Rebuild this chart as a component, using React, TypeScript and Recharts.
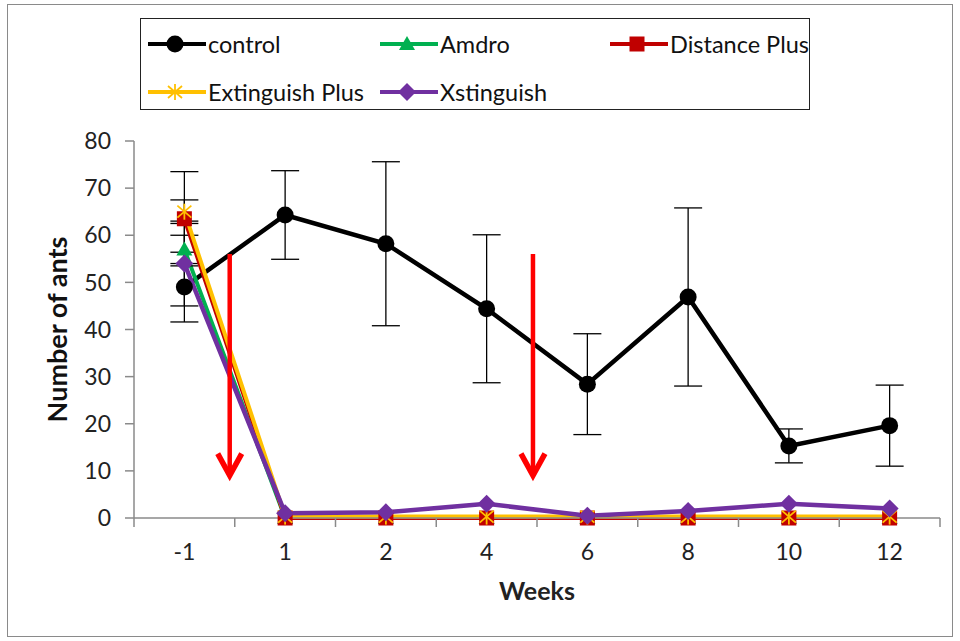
import React from 'react';
import { LineChart, Line, XAxis, YAxis, ErrorBar, Legend, ReferenceLine } from 'recharts';

const weeks = ['-1', '1', '2', '4', '6', '8', '10', '12'];
const control = [49, 64.3, 58.2, 44.4, 28.4, 46.9, 15.3, 19.6];
const controlErr = [7.4, 9.4, 17.4, 15.7, 10.7, 18.9, 3.6, 8.6];
const amdro = [57, 0, 0, 0, 0, 0, 0, 0];
const amdroErr = [3, 0, 0, 0, 0, 0, 0, 0];
const distancePlus = [63.5, 0, 0, 0, 0, 0, 0, 0];
const distancePlusErr = [10, 0, 0, 0, 0, 0, 0, 0];
const extinguishPlus = [65, 0.3, 0.3, 0.3, 0.3, 0.3, 0.3, 0.3];
const extinguishPlusErr = [2.5, 0, 0, 0, 0, 0, 0, 0];
const xstinguish = [54, 1, 1.2, 3, 0.5, 1.5, 3, 2];
const xstinguishErr = [9, 0, 0, 0, 0, 0, 0, 0];
const yTicks = [0, 10, 20, 30, 40, 50, 60, 70, 80];
const arrowX = [0.45, 3.46];
const arrowTop = 56;
const arrowBottom = 9;

const data = weeks.map((w, i) => ({
  i,
  week: w,
  control: control[i],
  controlErr: controlErr[i] || null,
  amdro: amdro[i],
  amdroErr: amdroErr[i] || null,
  distancePlus: distancePlus[i],
  distancePlusErr: distancePlusErr[i] || null,
  extinguishPlus: extinguishPlus[i],
  extinguishPlusErr: extinguishPlusErr[i] || null,
  xstinguish: xstinguish[i],
  xstinguishErr: xstinguishErr[i] || null,
}));

const FONT = 'Lato, "Open Sans", sans-serif';
const C_CONTROL = '#000000';
const C_AMDRO = '#00B050';
const C_DIST = '#C00000';
const C_EXT = '#FFC000';
const C_XST = '#7030A0';

const CircleMark = ({ cx, cy }: any) => <circle cx={cx} cy={cy} r={8.5} fill={C_CONTROL} />;
const TriMark = ({ cx, cy }: any) => (
  <polygon points={`${cx},${cy - 8} ${cx - 8},${cy + 6} ${cx + 8},${cy + 6}`} fill={C_AMDRO} />
);
const SquareMark = ({ cx, cy }: any) => <rect x={cx - 7.5} y={cy - 7.5} width={15} height={15} fill={C_DIST} />;
const StarMark = ({ cx, cy }: any) => (
  <g stroke={C_EXT} strokeWidth={1.8}>
    <line x1={cx} y1={cy - 8} x2={cx} y2={cy + 8} />
    <line x1={cx - 7} y1={cy - 6} x2={cx + 7} y2={cy + 6} />
    <line x1={cx - 7} y1={cy + 6} x2={cx + 7} y2={cy - 6} />
  </g>
);
const DiamondMark = ({ cx, cy }: any) => (
  <polygon points={`${cx},${cy - 9} ${cx + 9},${cy} ${cx},${cy + 9} ${cx - 9},${cy}`} fill={C_XST} />
);

const mk = (Comp: any) => (p: any) => <Comp key={`d-${p.index}`} cx={p.cx} cy={p.cy} />;

const legendItems = [
  { name: 'control', color: C_CONTROL, Mark: CircleMark },
  { name: 'Amdro', color: C_AMDRO, Mark: TriMark },
  { name: 'Distance Plus', color: C_DIST, Mark: SquareMark },
  { name: 'Extinguish Plus', color: C_EXT, Mark: StarMark },
  { name: 'Xstinguish', color: C_XST, Mark: DiamondMark },
];
const legendPos = [
  [0, 0], [232, 0], [462, 0],
  [0, 48], [232, 48],
];

const LegendBox = () => (
  <div
    style={{
      position: 'relative',
      width: 670,
      height: 92,
      border: '1.5px solid #222',
      boxSizing: 'border-box',
      background: '#fff',
    }}
  >
    {legendItems.map((it, k) => (
      <div
        key={it.name}
        style={{
          position: 'absolute',
          left: legendPos[k][0] + 7,
          top: legendPos[k][1] + 10,
          height: 30,
          display: 'flex',
          alignItems: 'center',
          whiteSpace: 'nowrap',
        }}
      >
        <svg width={58} height={30} style={{ display: 'block' }}>
          <line x1={0} y1={15} x2={58} y2={15} stroke={it.color} strokeWidth={4} />
          <it.Mark cx={27} cy={15} />
        </svg>
        <span style={{ fontFamily: FONT, fontSize: 23.5, color: '#111', marginLeft: 2 }}>{it.name}</span>
      </div>
    ))}
  </div>
);

const Arrow = (props: any) => {
  const { x1, y1, x2, y2 } = props;
  const top = Math.min(y1, y2);
  const bot = Math.max(y1, y2);
  return (
    <g>
      <line x1={x1} y1={top} x2={x2} y2={bot - 3} stroke="#FF0000" strokeWidth={4.5} />
      <polyline
        points={`${x1 - 12},${bot - 22} ${x1},${bot} ${x1 + 12},${bot - 22}`}
        fill="none"
        stroke="#FF0000"
        strokeWidth={5.5}
        strokeLinejoin="miter"
      />
    </g>
  );
};

const NoTick = () => <g />;

export default function App() {
  return (
    <div style={{ position: 'absolute', left: 0, top: 0, width: 960, height: 641, background: '#fff' }}>
      <div
        style={{
          position: 'absolute',
          left: 7,
          top: 4,
          width: 946,
          height: 633,
          border: '1.5px solid #8a8a8a',
          boxSizing: 'border-box',
        }}
      />
      <LineChart
        width={960}
        height={641}
        data={data}
        margin={{ top: 141, right: 20, bottom: 62, left: 0 }}
        style={{ position: 'absolute', left: 0, top: 0 }}
      >
        <XAxis
          xAxisId="grid"
          type="number"
          dataKey="i"
          domain={[-0.5, 7.5]}
          ticks={[-0.5, 0.5, 1.5, 2.5, 3.5, 4.5, 5.5, 6.5, 7.5]}
          tick={NoTick}
          height={1}
          tickSize={9}
          axisLine={{ stroke: '#8a8a8a', strokeWidth: 1.5 }}
          tickLine={{ stroke: '#8a8a8a', strokeWidth: 1.5 }}
        />
        <XAxis
          xAxisId="main"
          type="number"
          dataKey="i"
          domain={[-0.5, 7.5]}
          ticks={[0, 1, 2, 3, 4, 5, 6, 7]}
          tickFormatter={(v: number) => weeks[v]}
          height={60}
          tickSize={0}
          tickMargin={25}
          axisLine={false}
          tickLine={false}
          tick={{ fontFamily: FONT, fontSize: 23, fill: '#222' }}
          label={{ value: 'Weeks', position: 'bottom', offset: 3, style: { fontFamily: FONT, fontSize: 25, fontWeight: 700, fill: '#222' } }}
        />
        <YAxis
          domain={[0, 80]}
          ticks={yTicks}
          width={134}
          tickSize={9}
          tickMargin={14}
          axisLine={{ stroke: '#8a8a8a', strokeWidth: 1.5 }}
          tickLine={{ stroke: '#8a8a8a', strokeWidth: 1.5 }}
          tick={{ fontFamily: FONT, fontSize: 23, fill: '#222' }}
          label={{
            value: 'Number of ants',
            angle: -90,
            position: 'center',
            dx: -10,
            style: { fontFamily: FONT, fontSize: 27, fontWeight: 700, fill: '#111', textAnchor: 'middle' },
          }}
        />
        <Legend
          layout="horizontal"
          verticalAlign="middle"
          align="center"
          wrapperStyle={{ position: 'absolute', left: 140, top: 18, width: 670, height: 92 }}
          content={() => <LegendBox />}
        />
        <Line
          xAxisId="main"
          dataKey="control"
          stroke={C_CONTROL}
          strokeWidth={4.5}
          dot={mk(CircleMark)}
          activeDot={false}
          isAnimationActive={false}
        >
          <ErrorBar dataKey="controlErr" direction="y" width={14} stroke="#000" strokeWidth={1.3} />
        </Line>
        <Line
          xAxisId="main"
          dataKey="amdro"
          stroke={C_AMDRO}
          strokeWidth={4}
          dot={mk(TriMark)}
          activeDot={false}
          isAnimationActive={false}
        >
          <ErrorBar dataKey="amdroErr" direction="y" width={14} stroke="#000" strokeWidth={1.3} />
        </Line>
        <Line
          xAxisId="main"
          dataKey="distancePlus"
          stroke={C_DIST}
          strokeWidth={4}
          dot={mk(SquareMark)}
          activeDot={false}
          isAnimationActive={false}
        >
          <ErrorBar dataKey="distancePlusErr" direction="y" width={14} stroke="#000" strokeWidth={1.3} />
        </Line>
        <Line
          xAxisId="main"
          dataKey="extinguishPlus"
          stroke={C_EXT}
          strokeWidth={4}
          dot={mk(StarMark)}
          activeDot={false}
          isAnimationActive={false}
        >
          <ErrorBar dataKey="extinguishPlusErr" direction="y" width={14} stroke="#000" strokeWidth={1.3} />
        </Line>
        <Line
          xAxisId="main"
          dataKey="xstinguish"
          stroke={C_XST}
          strokeWidth={4.5}
          dot={mk(DiamondMark)}
          activeDot={false}
          isAnimationActive={false}
        >
          <ErrorBar dataKey="xstinguishErr" direction="y" width={14} stroke="#000" strokeWidth={1.3} />
        </Line>
        {arrowX.map((ax) => (
          <ReferenceLine
            key={`arrow-${ax}`}
            xAxisId="main"
            segment={[
              { x: ax, y: arrowTop },
              { x: ax, y: arrowBottom },
            ]}
            shape={(p: any) => <Arrow {...p} />}
            ifOverflow="visible"
          />
        ))}
      </LineChart>
    </div>
  );
}
